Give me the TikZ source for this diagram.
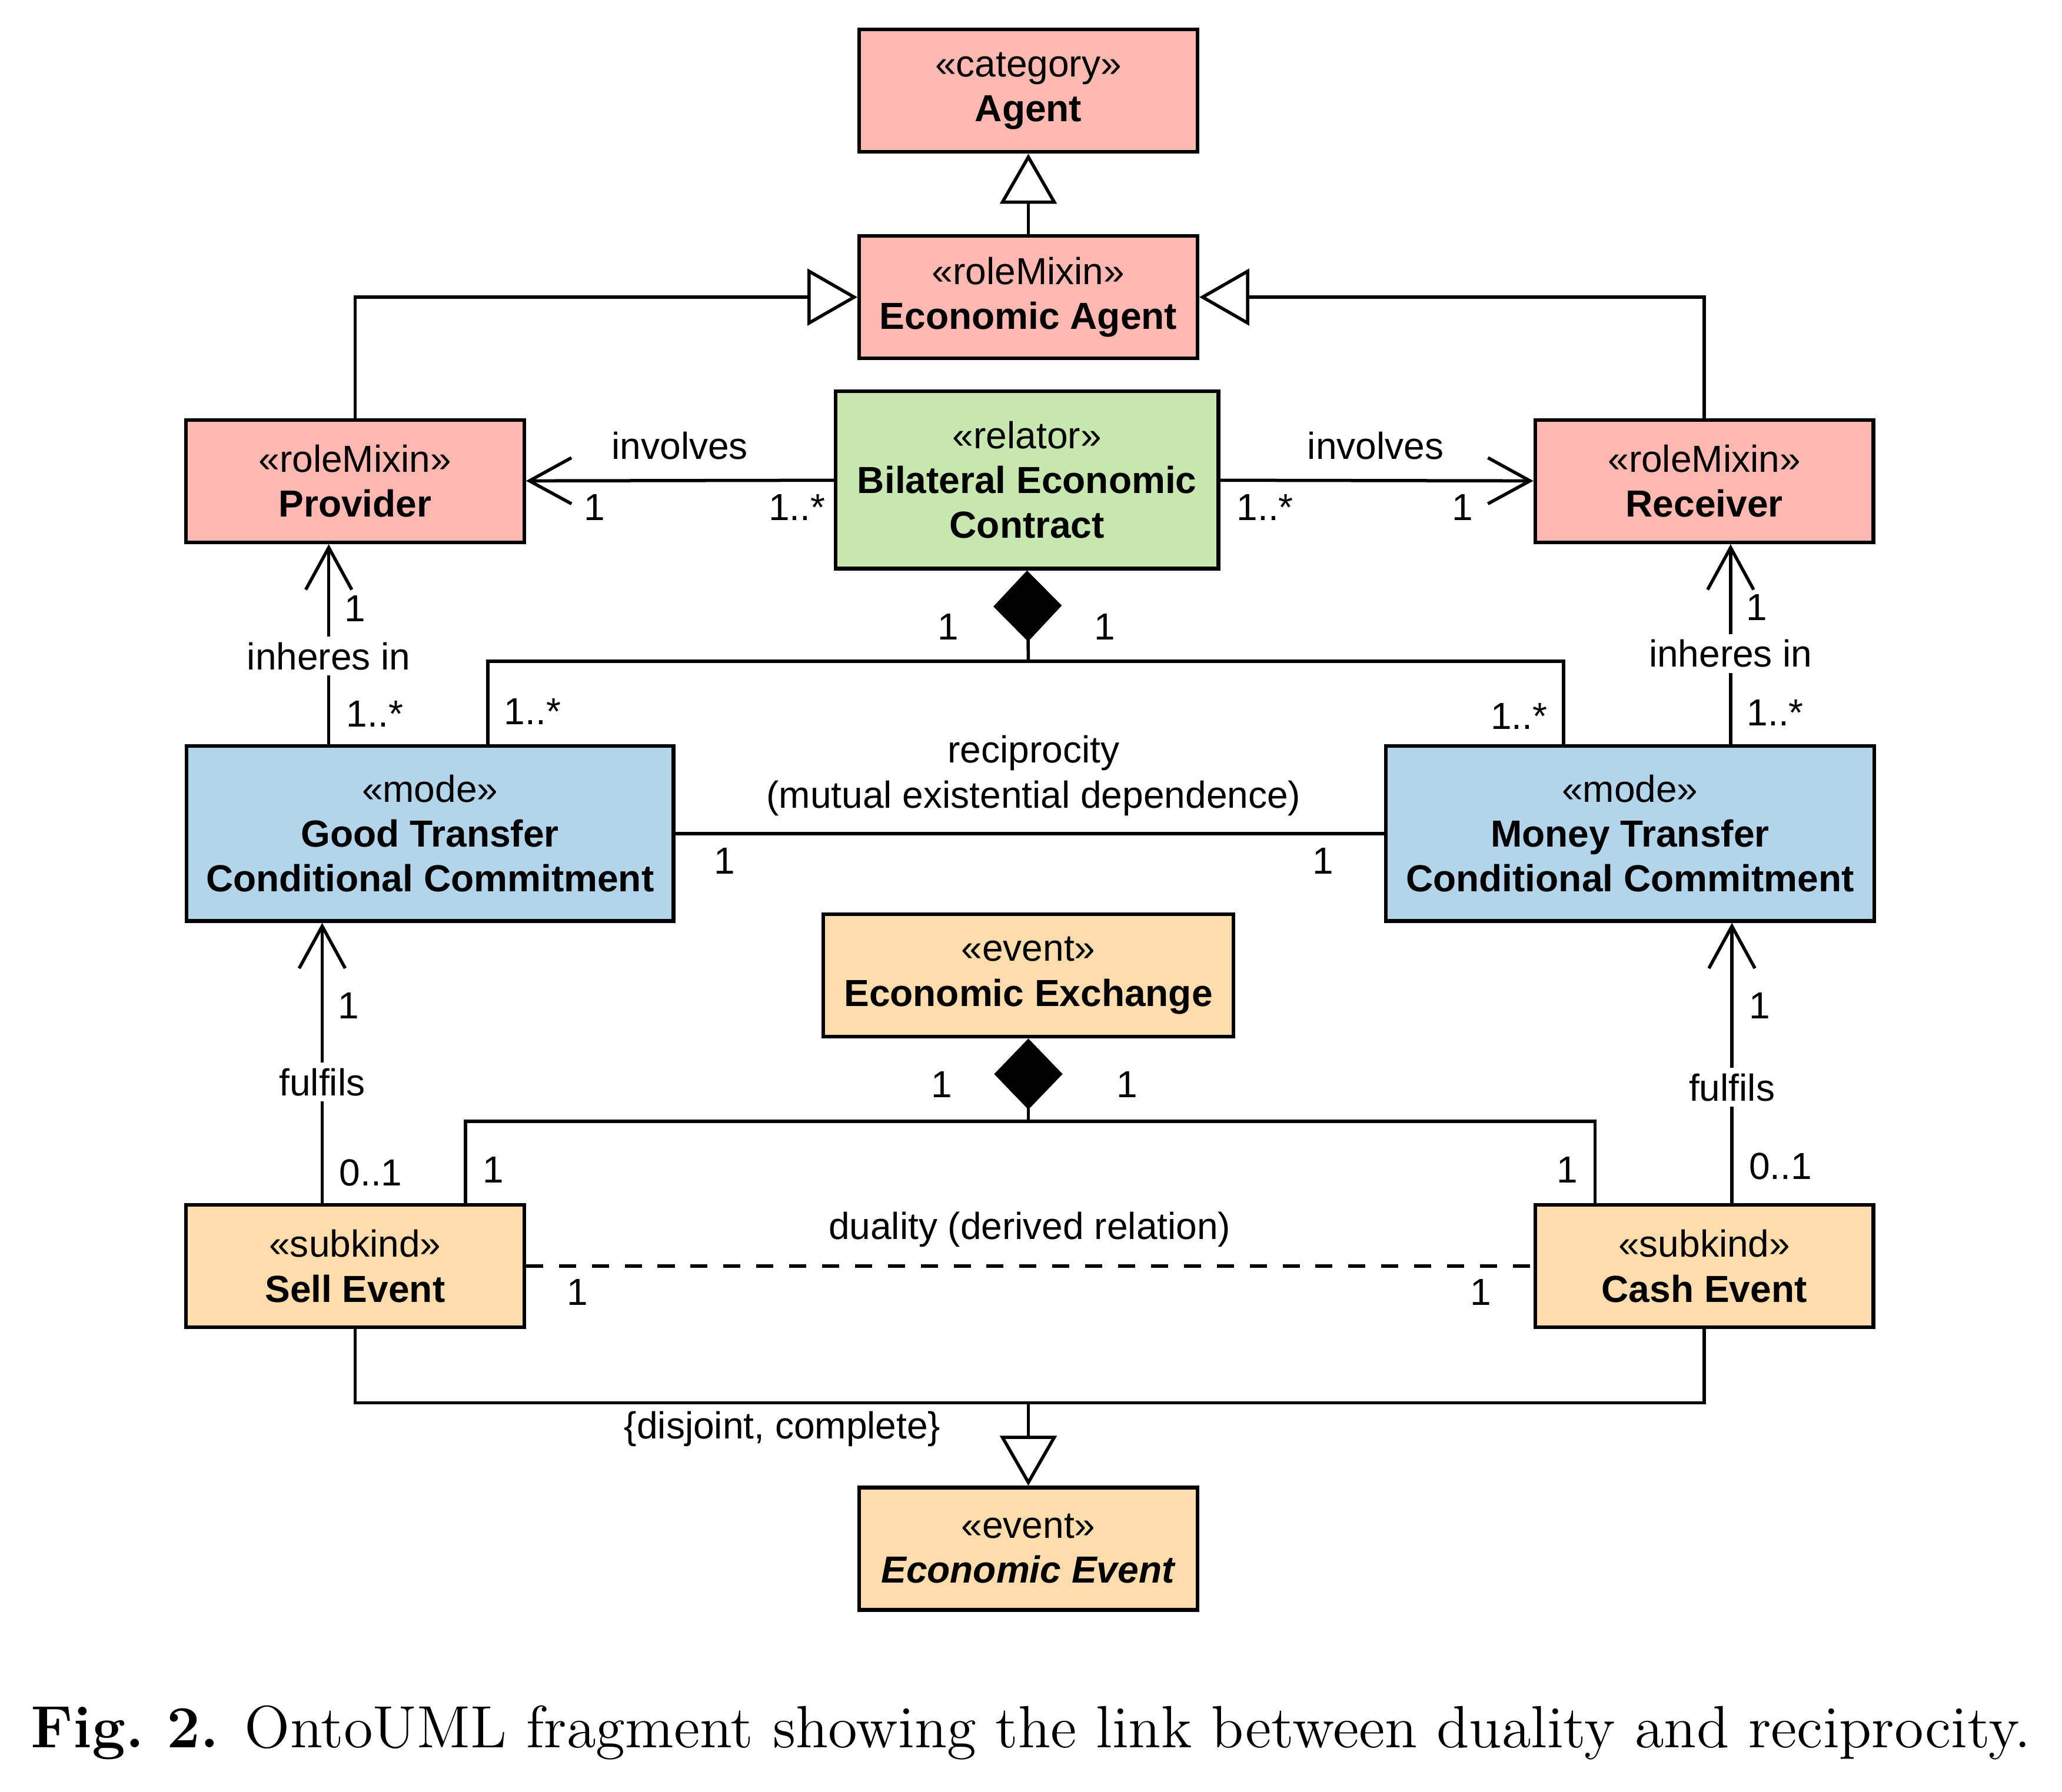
\documentclass[tikz,border=0pt]{standalone}
\usepackage{fontspec}
\usepackage{xcolor}
\usetikzlibrary{arrows.meta}
\newfontfamily\umlfont{Liberation Sans}
\definecolor{rolepink}{RGB}{254,184,178}
\definecolor{relgreen}{RGB}{199,230,176}
\definecolor{modeblue}{RGB}{178,213,236}
\definecolor{eventtan}{RGB}{254,220,171}

\begin{document}
\begin{tikzpicture}[x=0.01cm,y=-0.01cm]
		 %\draw[help lines] (0,0) grid (1568,1363);
		 \useasboundingbox (0,0) rectangle (1568,1363);
		 \tikzset{
		 umlbox/.style 	= {draw, line width=0.8pt, align=center, inner sep=0pt,
		 	minimum width=2.57cm, minimum height=0.93cm,
		 	font=\umlfont\fontsize{8.15}{9.7}\selectfont},
		 lbl/.style 		= {inner sep=1pt, align=center,
		 	font=\umlfont\fontsize{8.15}{9.7}\selectfont},
		 conn/.style 		= {line width=0.7pt, black},
		 genarrow/.style 	= {conn, -{Triangle[open, length=3.8mm, width=4.3mm]}},
		 navarrow/.style 	= {conn, -{Straight Barb[length=3.2mm, width=3.5mm]}},
		 partof/.style 	= {conn, {Diamond[length=5.4mm, width=5.2mm]}-}}

		 \node[umlbox, fill=rolepink] (agent) at (782,69) {«category»\\\textbf{Agent}};
		 \node[umlbox, fill=rolepink] (ecoagent) at (782,226) {«roleMixin»\\\textbf{Economic Agent}};
		 \node[umlbox, fill=rolepink] (provider) at (270,366) {«roleMixin»\\\textbf{Provider}};
		 \node[umlbox, fill=rolepink] (receiver) at (1296,366) {«roleMixin»\\\textbf{Receiver}};
		 \node[umlbox, fill=relgreen, minimum width=2.91cm, minimum height=1.35cm] (contract) at (781,365)
		 	{«relator»\\\textbf{Bilateral Economic}\\\textbf{Contract}};

		 \node[umlbox, fill=modeblue, minimum width=3.70cm, minimum height=1.33cm] (goodcc) at (327,634)
		 	{«mode»\\\textbf{Good Transfer}\\\textbf{Conditional Commitment}};
		 \node[umlbox, fill=modeblue, minimum width=3.71cm, minimum height=1.33cm] (moneycc) at (1239.5,634)
		 	{«mode»\\\textbf{Money Transfer}\\\textbf{Conditional Commitment}};

		 \node[umlbox, fill=eventtan, minimum width=3.12cm] (exchange) at (782,742) {«event»\\\textbf{Economic Exchange}};
		 \node[umlbox, fill=eventtan] (sell) at (270,963) {«subkind»\\\textbf{Sell Event}};
		 \node[umlbox, fill=eventtan] (cash) at (1296,963) {«subkind»\\\textbf{Cash Event}};
		 \node[umlbox, fill=eventtan] (ecoevent) at (782,1178) {«event»\\\textbf{\itshape Economic Event}};

		 \coordinate (cjoin) at (782,503);
		 \coordinate (ejoin) at (782,853);
		 \coordinate (gjoin) at (782,1067);

		 \node[lbl] (invl) at (517,339) {involves};
		 \node[lbl] (invlone) at (452,386) {1};
		 \node[lbl] (invlmany) at (606,386) {1..*};
		 \node[lbl] (invr) at (1046,339) {involves};
		 \node[lbl] (invrmany) at (962,386) {1..*};
		 \node[lbl] (invrone) at (1112,386) {1};

		 \node[lbl] (cpartl) at (721,477) {1};
		 \node[lbl] (cpartr) at (840,477) {1};
		 \node[lbl] (cgood) at (405,541) {1..*};
		 \node[lbl] (cmoney) at (1155,545) {1..*};

		 \node[lbl, fill=white] (inhl) at (250,499) {inheres in};
		 \node[lbl] (inhlone) at (270,463) {1};
		 \node[lbl] (inhlmany) at (285,543) {1..*};
		 \node[lbl, fill=white] (inhr) at (1316,497) {inheres in};
		 \node[lbl] (inhrone) at (1336,462) {1};
		 \node[lbl] (inhrmany) at (1350,542) {1..*};

		 \node[lbl] (recip) at (786,590) {reciprocity\\(mutual existential dependence)};
		 \node[lbl] (recipl) at (551,655) {1};
		 \node[lbl] (recipr) at (1006,655) {1};

		 \node[lbl, fill=white] (fulfl) at (245,823) {fulfils};
		 \node[lbl] (fulflone) at (265,765) {1};
		 \node[lbl] (fulflopt) at (282,892) {0..1};
		 \node[lbl, fill=white] (fulfr) at (1317,827) {fulfils};
		 \node[lbl] (fulfrone) at (1338,765) {1};
		 \node[lbl] (fulfropt) at (1354,887) {0..1};

		 \node[lbl] (epartl) at (716,825) {1};
		 \node[lbl] (epartr) at (857,825) {1};
		 \node[lbl] (esell) at (375,890) {1};
		 \node[lbl] (ecash) at (1192,890) {1};

		 \node[lbl] (dual) at (783,935) {duality (derived relation)};
		 \node[lbl] (duall) at (439,983) {1};
		 \node[lbl] (dualr) at (1126,983) {1};
		 \node[lbl] (gset) at (595,1087) {\{disjoint, complete\}};

		 \draw[genarrow] (ecoagent) -- (agent);
		 \draw[genarrow] (provider.north) |- (ecoagent.west);
		 \draw[genarrow] (receiver.north) |- (ecoagent.east);

		 \draw[navarrow] (contract) -- (provider);
		 \draw[navarrow] (contract) -- (receiver);

		 \draw[partof] (contract.south) -- (cjoin);
		 \draw[conn] ([xshift=0.44cm]goodcc.north) |- (cjoin) -| ([xshift=-0.505cm]moneycc.north);

		 \draw[conn] (goodcc.north -| inhl) -- (inhl);
		 \draw[navarrow] (inhl) -- (provider.south -| inhl);
		 \draw[conn] (moneycc.north -| inhr) -- (inhr);
		 \draw[navarrow] (inhr) -- (receiver.south -| inhr);

		 \draw[conn] (goodcc) -- (moneycc);

		 \draw[conn] (sell.north -| fulfl) -- (fulfl);
		 \draw[navarrow] (fulfl) -- (goodcc.south -| fulfl);
		 \draw[conn] (cash.north -| fulfr) -- (fulfr);
		 \draw[navarrow] (fulfr) -- (moneycc.south -| fulfr);

		 \draw[partof] (exchange.south) -- (ejoin);
		 \draw[conn] ([xshift=0.84cm]sell.north) |- (ejoin) -| ([xshift=-0.83cm]cash.north);

		 \draw[conn, dash pattern=on 0.13cm off 0.12cm] (sell) -- (cash);

		 \draw[conn] (sell.south) |- (gjoin) -| (cash.south);
		 \draw[genarrow] (gjoin) -- (ecoevent);

		 \node (caption) at (784,1318) {\fontsize{12.9}{15}\selectfont\textbf{Fig.\ 2.} OntoUML fragment showing the link between duality and reciprocity.};
\end{tikzpicture}
\end{document}
